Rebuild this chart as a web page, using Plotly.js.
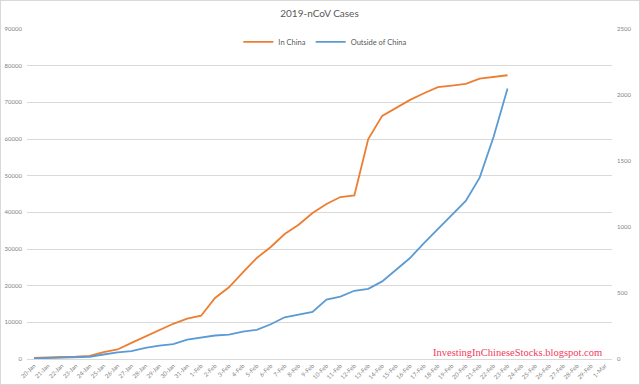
<!DOCTYPE html>
<html>
<head>
<meta charset="utf-8">
<script src="https://cdn.plot.ly/plotly-3.0.1.min.js"></script>
<style>
html,body{margin:0;padding:0;background:#fff;}
#wrap{position:relative;width:640px;height:385px;}
#chart{width:640px;height:385px;}
#frame{position:absolute;left:0;top:0;width:638px;height:383px;border:1px solid #d9d9d9;pointer-events:none;}
</style>
</head>
<body>
<div id="wrap"><div id="chart"></div><div id="frame"></div></div>
<script>
// Categories (dates)
const dates = ["20-Jan","21-Jan","22-Jan","23-Jan","24-Jan","25-Jan","26-Jan","27-Jan","28-Jan","29-Jan","30-Jan","31-Jan",
  "1-Feb","2-Feb","3-Feb","4-Feb","5-Feb","6-Feb","7-Feb","8-Feb","9-Feb","10-Feb","11-Feb","12-Feb","13-Feb","14-Feb",
  "15-Feb","16-Feb","17-Feb","18-Feb","19-Feb","20-Feb","21-Feb","22-Feb","23-Feb","24-Feb","25-Feb","26-Feb","27-Feb",
  "28-Feb","29-Feb","1-Mar"];
const dataDates = dates.slice(0, 35);

// In China (left axis)
const inChina = [278, 326, 547, 639, 850, 1850, 2600, 4410, 6100, 7760, 9600, 11000,
  11800, 16660, 19550, 23640, 27560, 30550, 34090, 36620, 39810, 42260, 44170, 44600, 60000, 66300,
  68430, 70660, 72490, 74120, 74550, 75020, 76460, 77010, 77390];

// Outside of China (right axis)
const outside = [4, 6, 9, 13, 17, 34, 51, 59, 85, 102, 112, 146,
  160, 178, 185, 208, 221, 263, 316, 339, 357, 450, 472, 517, 531, 588,
  676, 765, 878, 985, 1091, 1198, 1374, 1684, 2050];

const leftTicks = [0,10000,20000,30000,40000,50000,60000,70000,80000,90000];
const rightTicks = [0,500,1000,1500,2000,2500];

const FONT = "Lato, 'Open Sans', sans-serif";

const traces = [
  {x: dataDates, y: inChina, name: "In China", type: "scatter", mode: "lines",
   line: {color: "#ED7D31", width: 1.8}, yaxis: "y"},
  {x: dataDates, y: outside, name: "Outside of China", type: "scatter", mode: "lines",
   line: {color: "#5B9BD5", width: 1.8}, yaxis: "y2"}
];

const layout = {
  width: 640, height: 385,
  margin: {l: 27, r: 28, t: 29, b: 26, pad: 0},
  paper_bgcolor: "#fff", plot_bgcolor: "#fff",
  font: {family: FONT, color: "#7f7f7f", size: 6},
  title: {text: "2019-nCoV Cases", font: {family: FONT, size: 10, color: "#595959"},
          x: 0.5, xanchor: "center", y: 0.966, yanchor: "middle", xref: "paper", automargin: false},
  showlegend: true,
  legend: {orientation: "h", x: 0.51, xanchor: "center", y: 0.961, yanchor: "middle",
           font: {family: FONT, size: 7.5, color: "#595959"}, itemwidth: 30, bgcolor: "rgba(0,0,0,0)"},
  xaxis: {type: "category", categoryorder: "array", categoryarray: dates, range: [-0.5, dates.length - 0.5],
          tickmode: "array", tickvals: dates, ticktext: dates, tickangle: -45,
          tickfont: {family: FONT, size: 6, color: "#7f7f7f"},
          showgrid: false, zeroline: false, showline: true, linecolor: "#d9d9d9", linewidth: 1, ticks: "", fixedrange: true},
  yaxis: {range: [0, 90000], tickmode: "array", tickvals: leftTicks, ticktext: leftTicks.map(String),
          showgrid: true, gridcolor: "#d9d9d9", gridwidth: 1, zeroline: false, showline: false, ticks: "",
          tickfont: {family: FONT, size: 6, color: "#7f7f7f"}, ticklabelstandoff: 4},
  yaxis2: {range: [0, 2500], overlaying: "y", side: "right", tickmode: "array", tickvals: rightTicks,
           ticktext: rightTicks.map(String), showgrid: false, zeroline: false, showline: false, ticks: "",
           tickfont: {family: FONT, size: 6, color: "#7f7f7f"}, ticklabelstandoff: 4},
  annotations: [
    {text: "InvestingInChineseStocks.blogspot.com", xref: "paper", yref: "paper", x: 0.986, y: 0.02,
     xanchor: "right", yanchor: "middle", showarrow: false,
     font: {family: "'Liberation Serif', 'Times New Roman', serif", size: 10.5, color: "#F23A5E"}}
  ]
};

Plotly.newPlot("chart", traces, layout, {displayModeBar: false, staticPlot: true});
</script>
</body>
</html>
